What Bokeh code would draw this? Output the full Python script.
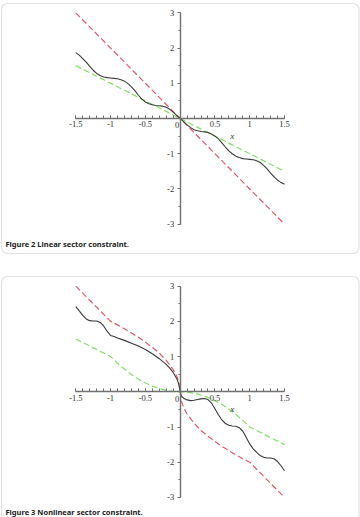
from bokeh.plotting import figure
from bokeh.models import Range1d, FixedTicker, Label, BoxAnnotation
from bokeh.layouts import column
from bokeh.embed import file_html
from bokeh.resources import INLINE

# ---- tick labels ----
x_tick_vals = [-1.5, -1, -0.5, 0.5, 1, 1.5]
x_tick_labels = ["-1.5", "-1", "-0.5", "0.5", "1", "1.5"]
y_tick_vals = [-3, -2, -1, 1, 2, 3]
y_tick_labels = ["-3", "-2", "-1", "1", "2", "3"]

# ---- Figure 2: linear sector ----
lin_bound_x = [-1.5, 1.5]
lin_upper_y = [3.0, -3.0]     # slope -2 bound
lin_lower_y = [1.5, -1.5]     # slope -1 bound

lin_curve_x = [-1.50, -1.45, -1.40, -1.35, -1.30, -1.25, -1.20, -1.15, -1.10, -1.05,
               -1.00, -0.95, -0.90, -0.85, -0.80, -0.75, -0.70, -0.65, -0.60, -0.55,
               -0.50, -0.45, -0.40, -0.35, -0.30, -0.25, -0.20, -0.15, -0.10, -0.05,
               0.00, 0.05, 0.10, 0.15, 0.20, 0.25, 0.30, 0.35, 0.40, 0.45,
               0.50, 0.55, 0.60, 0.65, 0.70, 0.75, 0.80, 0.85, 0.90, 0.95,
               1.00, 1.05, 1.10, 1.15, 1.20, 1.25, 1.30, 1.35, 1.40, 1.45, 1.50]
lin_curve_y = [1.87, 1.80, 1.70, 1.60, 1.48, 1.37, 1.28, 1.22, 1.18, 1.16,
               1.15, 1.14, 1.13, 1.10, 1.06, 0.99, 0.90, 0.79, 0.66, 0.55,
               0.47, 0.42, 0.39, 0.37, 0.36, 0.35, 0.32, 0.26, 0.18, 0.09,
               0.00, -0.09, -0.18, -0.26, -0.32, -0.35, -0.37, -0.38, -0.40, -0.44,
               -0.50, -0.58, -0.69, -0.81, -0.92, -1.00, -1.07, -1.11, -1.14, -1.15,
               -1.16, -1.17, -1.20, -1.25, -1.33, -1.43, -1.55, -1.66, -1.75, -1.82, -1.87]

# ---- Figure 3: nonlinear sector ----
nl_bound_x = [-1.5, -1.4, -1.3, -1.2, -1.1, -1.0, -0.9, -0.8, -0.7, -0.6, -0.5, -0.4,
              -0.3, -0.2, -0.1, -0.05, -0.02, 0.0, 0.02, 0.05, 0.1, 0.2, 0.3, 0.4,
              0.5, 0.6, 0.7, 0.8, 0.9, 1.0, 1.1, 1.2, 1.3, 1.4, 1.5]
nl_upper_y = [3.0, 2.8, 2.6, 2.4, 2.2, 2.0, 1.90, 1.79, 1.67, 1.55, 1.41, 1.26,
              1.10, 0.89, 0.63, 0.45, 0.28, 0.0, -0.28, -0.45, -0.63, -0.89, -1.10, -1.26,
              -1.41, -1.55, -1.67, -1.79, -1.90, -2.0, -2.2, -2.4, -2.6, -2.8, -3.0]
nl_lower_y = [1.5, 1.4, 1.3, 1.2, 1.1, 1.0, 0.81, 0.64, 0.49, 0.36, 0.25, 0.16,
              0.09, 0.04, 0.01, 0.0025, 0.0004, 0.0, -0.0004, -0.0025, -0.01, -0.04, -0.09, -0.16,
              -0.25, -0.36, -0.49, -0.64, -0.81, -1.0, -1.1, -1.2, -1.3, -1.4, -1.5]

nl_curve_x = [-1.50, -1.45, -1.40, -1.35, -1.30, -1.25, -1.20, -1.15, -1.10, -1.05,
              -1.00, -0.95, -0.90, -0.80, -0.70, -0.60, -0.50, -0.40, -0.30, -0.20,
              -0.15, -0.10, -0.05, -0.02, 0.00, 0.02, 0.05, 0.10, 0.15, 0.20,
              0.25, 0.30, 0.35, 0.40, 0.45, 0.50, 0.55, 0.60, 0.65, 0.70,
              0.75, 0.80, 0.85, 0.90, 0.95, 1.00, 1.05, 1.10, 1.15, 1.20,
              1.25, 1.30, 1.35, 1.40, 1.45, 1.50]
nl_curve_y = [2.42, 2.30, 2.17, 2.07, 2.02, 2.01, 2.01, 1.97, 1.87, 1.72,
              1.60, 1.57, 1.53, 1.46, 1.38, 1.30, 1.20, 1.08, 0.94, 0.78,
              0.67, 0.55, 0.38, 0.22, 0.00, -0.12, -0.18, -0.23, -0.25, -0.24,
              -0.22, -0.20, -0.19, -0.22, -0.32, -0.48, -0.65, -0.80, -0.90, -0.95,
              -0.97, -0.98, -1.02, -1.12, -1.30, -1.48, -1.62, -1.72, -1.81, -1.86,
              -1.88, -1.88, -1.90, -1.98, -2.10, -2.24]

x_minor = [round(-1.5 + 0.1 * i, 2) for i in range(31)]
y_minor = [round(-3 + 0.5 * i, 2) for i in range(13)]

RED = "#e05a6a"
GREEN = "#86dc68"
CURVE = "#3a3a3a"
AXIS = "#707070"
SERIF = "Liberation Serif"


def make_panel(height, y_lo, y_hi, box_top, box_bottom, caption, cap_y, cap_base,
               bx, upper, lower, cx, cy):
    p = figure(width=360, height=height, output_backend="svg", toolbar_location=None,
               x_range=Range1d(-2.582, 2.592), y_range=Range1d(y_lo, y_hi),
               min_border=0, min_border_left=0, min_border_right=0,
               min_border_top=0, min_border_bottom=0)
    p.grid.visible = False
    p.outline_line_color = None
    p.background_fill_color = "white"
    p.border_fill_color = "white"

    # rounded panel frame
    p.add_layout(BoxAnnotation(left=1, right=358.5, top=box_top, bottom=box_bottom,
                               left_units="screen", right_units="screen",
                               top_units="screen", bottom_units="screen",
                               fill_alpha=0, line_color="#a0a0a0", line_width=1.2,
                               border_radius=6))

    # axes through the origin, limited to the plotted domain
    xa = p.xaxis[0]
    ya = p.yaxis[0]
    xa.fixed_location = 0
    ya.fixed_location = 0
    xa.bounds = (-1.5, 1.5)
    ya.bounds = (-3, 3)
    xa.ticker = FixedTicker(ticks=x_tick_vals, minor_ticks=x_minor)
    ya.ticker = FixedTicker(ticks=y_tick_vals, minor_ticks=y_minor)
    xa.major_label_overrides = dict(zip(x_tick_vals, x_tick_labels))
    ya.major_label_overrides = dict(zip(y_tick_vals, y_tick_labels))
    for ax in (xa, ya):
        ax.axis_line_color = AXIS
        ax.axis_line_width = 1.4
        ax.major_tick_line_color = AXIS
        ax.minor_tick_line_color = AXIS
        ax.major_label_text_font = SERIF
        ax.major_label_text_font_size = "8.5px"
        ax.major_label_text_color = "#333333"
        ax.major_label_standoff = 3
    xa.major_tick_in = 3
    xa.major_tick_out = 0
    xa.minor_tick_in = 3
    xa.minor_tick_out = 0
    ya.major_tick_in = 0
    ya.major_tick_out = 3
    ya.minor_tick_in = 0
    ya.minor_tick_out = 2

    p.line(bx, upper, line_color=RED, line_width=1.2, line_dash="6 3")
    p.line(bx, lower, line_color=GREEN, line_width=1.2, line_dash="6 3")
    p.line(cx, cy, line_color=CURVE, line_width=1.1)

    p.add_layout(Label(x=0, y=0, text="0", x_offset=-1, y_offset=-4,
                       text_align="right", text_baseline="top",
                       text_font=SERIF, text_font_size="8.5px",
                       text_color="#333333"))
    p.add_layout(Label(x=0.75, y=-0.5, text="x", text_align="center",
                       text_baseline="middle", text_font=SERIF,
                       text_font_style="italic", text_font_size="9px",
                       text_color="#333333"))
    p.add_layout(Label(x=5, y=cap_y, x_units="screen", y_units="screen",
                       text=caption, text_align="left", text_baseline=cap_base,
                       text_font="Noto Sans", text_font_style="bold",
                       text_font_size="7.5px", text_color="#222222"))
    return p


p1 = make_panel(265, -4.174, 3.350, 262, 12, "Figure 2  Linear sector constraint.",
                22, "middle", lin_bound_x, lin_upper_y, lin_lower_y,
                lin_curve_x, lin_curve_y)
p2 = make_panel(252, -3.569, 3.586, 241, -10, "Figure 3  Nonlinear sector constraint.",
                1, "bottom", nl_bound_x, nl_upper_y, nl_lower_y,
                nl_curve_x, nl_curve_y)

layout = column(p1, p2, spacing=0)
open("out.html", "w").write(file_html(layout, INLINE))
